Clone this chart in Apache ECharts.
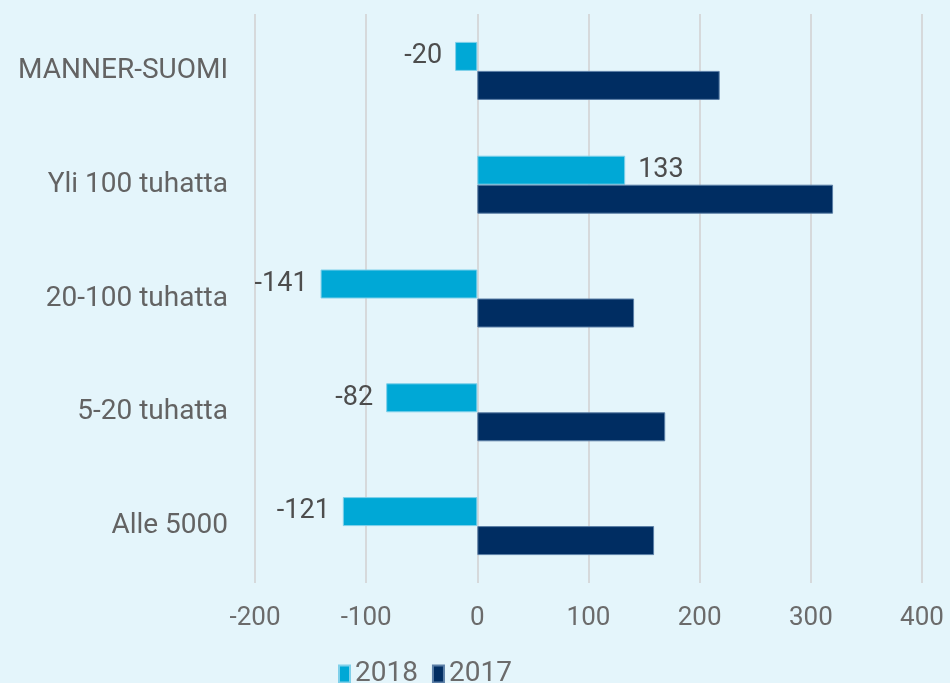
<!DOCTYPE html>
<html><head><meta charset="utf-8">
<script src="https://cdn.jsdelivr.net/npm/echarts@6/dist/echarts.min.js"></script>
<style>html,body{margin:0;padding:0;background:#e4f5fb;}#c{width:950px;height:683px;}</style>
</head><body><div id="c"></div>
<script>
const categories = ['MANNER-SUOMI','Yli 100 tuhatta','20-100 tuhatta','5-20 tuhatta','Alle 5000'];
const values2018 = [-20, 133, -141, -82, -121];
const values2017 = [218, 320, 141, 169, 159];
const seriesNames = ['2018','2017'];

const chart = echarts.init(document.getElementById('c'));
const font = 'Roboto, "Liberation Sans", sans-serif';
chart.setOption({
  backgroundColor: '#e4f5fb',
  animation: false,
  grid: {left: 255, right: 28, top: 14, bottom: 100, containLabel: false},
  legend: {
    data: seriesNames, left: 333, top: 655, itemWidth: 11, itemHeight: 17, itemGap: 14,
    icon: 'rect',
    textStyle: {fontFamily: font, fontSize: 28, color: '#6b6b6b'}
  },
  xAxis: {
    type: 'value', min: -200, max: 400, interval: 100,
    axisLine: {show: false}, axisTick: {show: false},
    splitLine: {lineStyle: {color: '#d6d9db', width: 2}},
    axisLabel: {fontFamily: font, fontSize: 26, color: '#6b6b6b', margin: 22}
  },
  yAxis: {
    type: 'category', data: categories, inverse: true,
    axisLine: {show: false}, axisTick: {show: false},
    axisLabel: {fontFamily: font, fontSize: 28, color: '#636363', margin: 27, padding: [4, 0, 0, 0]}
  },
  series: [
    {
      name: seriesNames[0], type: 'bar', data: values2018.map(v => ({
        value: v, label: {position: v < 0 ? 'left' : 'right'}
      })),
      barWidth: 29, barGap: '0%',
      itemStyle: {color: '#00a8d6', borderColor: '#7fd0ea', borderWidth: 1},
      label: {show: true, fontFamily: font, fontSize: 27, color: '#4d4d4d', distance: 13, padding: [3, 0, 0, 0]}
    },
    {
      name: seriesNames[1], type: 'bar', data: values2017,
      barWidth: 29, barGap: '0%',
      itemStyle: {color: '#002d62', borderColor: '#5a7ea6', borderWidth: 1}
    }
  ]
});
</script></body></html>
